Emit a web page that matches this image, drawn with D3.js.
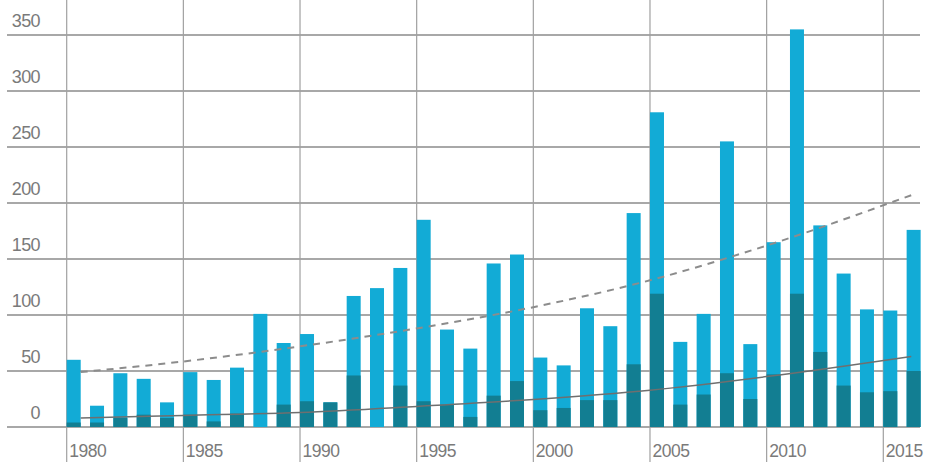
<!DOCTYPE html>
<html>
<head>
<meta charset="utf-8">
<script src="https://cdn.jsdelivr.net/npm/d3@7"></script>
<style>
  html, body { margin: 0; padding: 0; background: #fff; }
  svg { display: block; }
  text { font-family: "Liberation Sans", Arial, sans-serif; fill: #7a7a7a; }
</style>
</head>
<body>
<svg id="chart" width="928" height="462"></svg>
<script>
const years = d3.range(1980, 2017);
const totalValues = [60, 19, 48, 43, 22, 49, 42, 53, 101, 75, 83, 22, 117, 124, 142, 185, 87, 70, 146, 154,
                     62, 55, 106, 90, 191, 281, 76, 101, 255, 74, 165, 355, 180, 137, 105, 104, 176];
const darkValues = [4, 4, 8, 11, 8, 11, 5, 12, 0, 20, 23, 22, 46, 0, 37, 23, 20, 9, 28, 41,
                    15, 17, 24, 24, 56, 119, 20, 29, 48, 25, 47, 119, 67, 37, 31, 32, 50];
const yTicks = [0, 50, 100, 150, 200, 250, 300, 350];
const xTickLabels = ["1980", "1985", "1990", "1995", "2000", "2005", "2010", "2015"];
const trendX = [1980.6, 1985, 1990, 1995, 2000, 2005, 2010, 2016.2];
const trendTotal = [49, 58.5, 72, 88, 107, 131, 162, 207];
const trendDark = [8, 10.3, 13, 18.4, 24.6, 32.9, 45, 63];

const W = 928, H = 462;
const svg = d3.select("#chart");
const x = d3.scaleLinear().domain([1980, 2015]).range([66.7, 883.3]);
const y = d3.scaleLinear().domain([0, 350]).range([427, 35]);
const barW = 14;

// horizontal gridlines
svg.append("g").selectAll("line").data(yTicks).join("line")
  .attr("x1", 7).attr("x2", 920)
  .attr("y1", d => y(d)).attr("y2", d => y(d))
  .attr("stroke", "#a8a8a8").attr("stroke-width", 1.8);

// vertical gridlines
svg.append("g").selectAll("line").data(xTickLabels).join("line")
  .attr("x1", d => x(+d)).attr("x2", d => x(+d))
  .attr("y1", 0).attr("y2", H)
  .attr("stroke", "#a0a0a0").attr("stroke-width", 1.2);

// y labels
svg.append("g").selectAll("text").data(yTicks).join("text")
  .attr("x", 40).attr("y", d => y(d) - 8)
  .attr("text-anchor", "end")
  .style("font-size", "18px").style("letter-spacing", "-0.6px")
  .text(d => d);

// x labels
svg.append("g").selectAll("text").data(xTickLabels).join("text")
  .attr("x", d => x(+d) + 2.5).attr("y", 457)
  .style("font-size", "17.5px").style("letter-spacing", "-0.5px")
  .text(d => d);

const data = years.map((yr, i) => ({ yr, total: totalValues[i], dark: darkValues[i] }));

// light bars
svg.append("g").selectAll("rect").data(data).join("rect")
  .attr("x", d => x(d.yr)).attr("width", barW)
  .attr("y", d => y(d.total)).attr("height", d => y(0) - y(d.total))
  .attr("fill", "#12abd6");

// dark bars
svg.append("g").selectAll("rect").data(data).join("rect")
  .attr("x", d => x(d.yr)).attr("width", barW)
  .attr("y", d => y(d.dark)).attr("height", d => y(0) - y(d.dark))
  .attr("fill", "#127e92");

// trend lines
const line = d3.line().x(d => x(d[0])).y(d => y(d[1])).curve(d3.curveMonotoneX);
svg.append("path")
  .datum(trendX.map((t, i) => [t, trendTotal[i]]))
  .attr("d", line).attr("fill", "none")
  .attr("stroke", "#8c8c8c").attr("stroke-width", 2).attr("stroke-dasharray", "7,6");
svg.append("path")
  .datum(trendX.map((t, i) => [t, trendDark[i]]))
  .attr("d", line).attr("fill", "none")
  .attr("stroke", "#6f6f6f").attr("stroke-width", 1.5);
</script>
</body>
</html>
